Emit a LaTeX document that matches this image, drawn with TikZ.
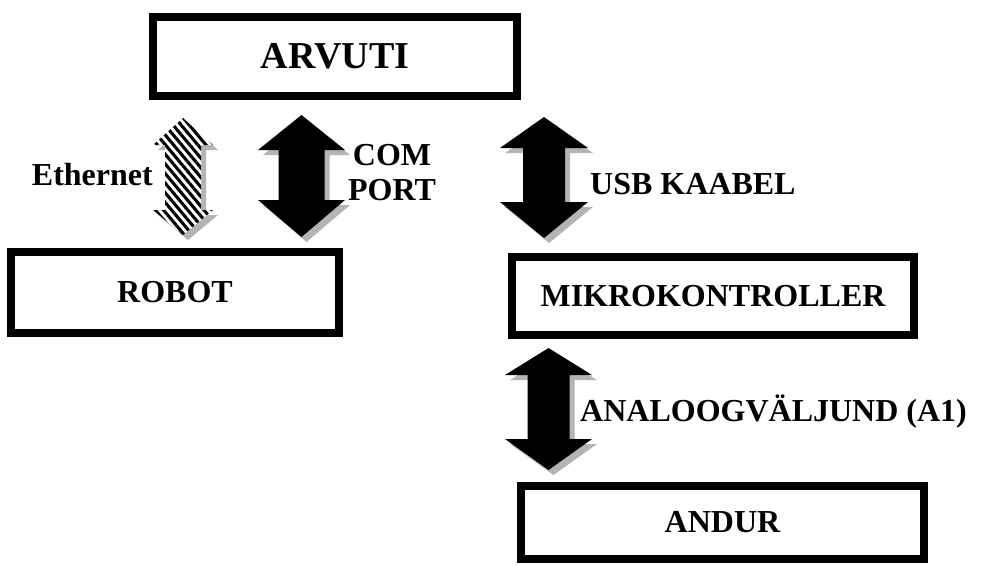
\documentclass[tikz,border=0pt]{standalone}
\usepackage{fontspec}
\setmainfont{Liberation Serif}
\usetikzlibrary{patterns.meta}
\definecolor{shadowgray}{HTML}{B4B4B4}
\newcommand\dblarr[8]{%
  % #1 cx, #2 ytop, #3 ybot, #4 half head, #5 half shaft, #6 head len top, #7 head len bottom, #8 style
  \path[#8] (#1,#2) -- ({#1+#4},{#2+#6}) -- ({#1+#5},{#2+#6}) -- ({#1+#5},{#3-#7})
    -- ({#1+#4},{#3-#7}) -- (#1,#3) -- ({#1-#4},{#3-#7}) -- ({#1-#5},{#3-#7})
    -- ({#1-#5},{#2+#6}) -- ({#1-#4},{#2+#6}) -- cycle;}
\tikzset{
  box/.style={draw=black, line width=8pt, inner sep=0pt, font=\fontsize{32}{38}\selectfont\bfseries},
  lbl/.style={inner sep=0pt, font=\fontsize{32}{38}\selectfont\bfseries},
  shade/.style={fill=shadowgray, shift={(5,5)}},
  solidarr/.style={fill=black},
  stripearr/.style={preaction={fill=white}, pattern={Lines[angle=-50,distance=6.2pt,line width=3.1pt]}, pattern color=black}
}
\begin{document}
\begin{tikzpicture}[x=1pt,y=-1pt]
\useasboundingbox (0,0) rectangle (981,565);
\fill[white] (0,0) rectangle (981,565);
% boxes
\node[box, minimum width=364pt, minimum height=79pt, font=\fontsize{38}{44}\selectfont\bfseries] (arvuti) at (335,56.5) {ARVUTI};
\node[box, minimum width=328pt, minimum height=81pt] (robot) at (175,292.5) {ROBOT};
\node[box, minimum width=402pt, minimum height=78pt] (mikro) at (713,296) {MIKROKONTROLLER};
\node[box, minimum width=403pt, minimum height=73pt] (andur) at (722.5,522.5) {ANDUR};
% arrows: shadows
\dblarr{183}{118}{235}{30}{18}{27}{25}{shade}
\dblarr{301.5}{115}{237}{43.5}{23}{35}{37}{shade}
\dblarr{544}{117}{238}{44}{21}{31}{36}{shade}
\dblarr{548.5}{348}{470}{43.5}{21}{27}{31}{shade}
% arrows
\dblarr{183}{118}{235}{30}{18}{27}{25}{stripearr}
\dblarr{301.5}{115}{237}{43.5}{23}{35}{37}{solidarr}
\dblarr{544}{117}{238}{44}{21}{31}{36}{solidarr}
\dblarr{548.5}{348}{470}{43.5}{21}{27}{31}{solidarr}
% labels
\node[lbl, anchor=base east] (eth) at (153,185) {Ethernet};
\node[lbl, anchor=base] (com) at (392,165) {COM};
\node[lbl, anchor=base] (port) at (392,200) {PORT};
\node[lbl, anchor=base west] (usb) at (590,194) {USB KAABEL};
\node[lbl, anchor=base west] (ana) at (580,421) {ANALOOGVÄLJUND (A1)};
\end{tikzpicture}
\end{document}
